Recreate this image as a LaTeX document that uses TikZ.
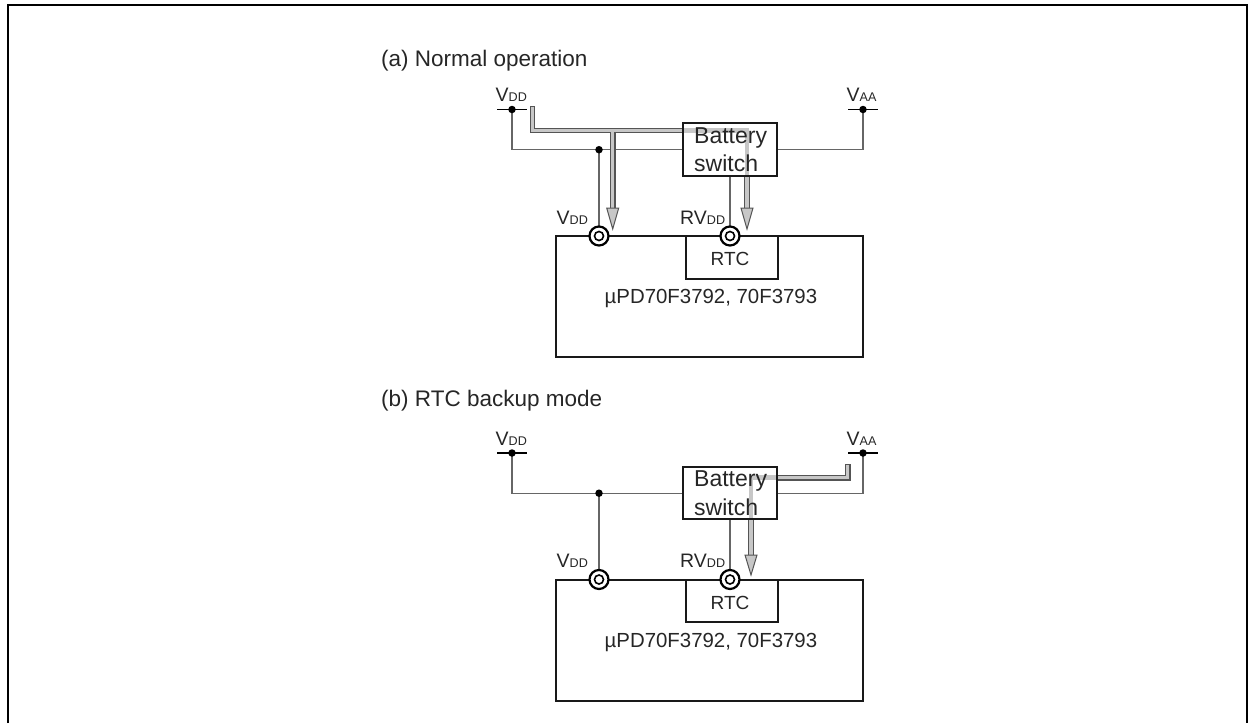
\documentclass[tikz,border=0pt]{standalone}
\usepackage{fontspec}
\setmainfont{Liberation Sans}
\definecolor{pipeedge}{gray}{0.33}
\definecolor{pipefill}{gray}{0.78}
\definecolor{wire}{gray}{0.4}
\newcommand{\VV}[2]{{\fontsize{19.5}{22}\selectfont #1{\fontsize{12.6}{22}\selectfont #2}}}
\tikzset{x=1pt,y=-1pt,
  frameline/.style={line width=2pt,black},
  box/.style={line width=2pt,black!90},
  thin wire/.style={line width=1.05pt,wire},
  rail/.style={line width=1.1pt,black},
  dotnode/.style={circle,fill=black,inner sep=0pt,minimum size=7.5pt},
  pinouter/.style={circle,draw=black,fill=white,line width=2.2pt,inner sep=0pt,minimum size=19pt},
  pininner/.style={circle,draw=black,fill=white,line width=1.6pt,inner sep=0pt,minimum size=9pt},
  txt/.style={inner sep=0pt,anchor=base west,font=\fontsize{23}{26}\selectfont,text=black!85},
  heading/.style={inner sep=0pt,anchor=base west,font=\fontsize{22.5}{26}\selectfont,text=black!85},
  lbl/.style={inner sep=0pt,anchor=base west,text=black!85},
  pipeout/.style={line width=5.8pt,pipeedge,line join=miter},
  pipein/.style={line width=3.4pt,pipefill,line join=miter},
  pipelight/.style={line width=4.5pt,pipefill},
  head/.style={draw=pipeedge,fill=pipefill,line width=1pt,line join=miter}
}
\newcommand{\panelbase}[2]{%
  \coordinate (d#2) at (512,{109.5+#1});
  \coordinate (a#2) at (863,{109.5+#1});
  \coordinate (j#2) at (599,{149.7+#1});
  \coordinate (pv#2) at (599,{236+#1});
  \coordinate (pr#2) at (730,{236+#1});
  \draw[rail] (497,{109.5+#1}) -- (527,{109.5+#1});
  \draw[rail] (848,{109.5+#1}) -- (878,{109.5+#1});
  \draw[thin wire] (d#2) |- (j#2) -- (683,{149.7+#1});
  \draw[thin wire] (776.7,{149.7+#1}) -| (a#2);
  \draw[thin wire] (j#2) -- (pv#2);
  \draw[thin wire] (730,{175.7+#1}) -- (pr#2);
  \node[dotnode] (dd#2) at (d#2) {};
  \node[dotnode] (da#2) at (a#2) {};
  \node[dotnode] (dj#2) at (j#2) {};
}
\newcommand{\panelfront}[2]{%
  \draw[box] (683,{123+#1}) rectangle (776.7,{175.7+#1});
  \draw[box] (556,{236+#1}) rectangle (862.7,{357.3+#1});
  \draw[box] (685.7,{236+#1}) rectangle (778,{278.5+#1});
  \node[pinouter] (po#2) at (pv#2) {};
  \node[pininner] (pi#2) at (pv#2) {};
  \node[pinouter] (qo#2) at (pr#2) {};
  \node[pininner] (qi#2) at (pr#2) {};
  \node[lbl] (l1#2) at (495.5,{101.7+#1}) {\VV{V}{DD}};
  \node[lbl] (l2#2) at (846.5,{101.7+#1}) {\VV{V}{AA}};
  \node[lbl] (l3#2) at (556.5,{224+#1}) {\VV{V}{DD}};
  \node[lbl] (l4#2) at (680,{224+#1}) {\VV{RV}{DD}};
  \node[txt] (t1#2) at (694,{143+#1}) {Battery};
  \node[txt] (t2#2) at (694,{171.5+#1}) {switch};
  \node[lbl,font=\fontsize{19}{22}\selectfont] (t3#2) at (710.5,{265.5+#1}) {RTC};
  \node[lbl,font=\fontsize{20.4}{24}\selectfont] (t4#2) at (604.5,{303.5+#1}) {\textmu PD70F3792, 70F3793};
}
\begin{document}
\begin{tikzpicture}
\useasboundingbox (0,0) rectangle (1249,723);
\draw[frameline] (8,723) -- (8,5) -- (1247,5) -- (1247,723);
\node[heading] (ta) at (381,66) {(a) Normal operation};
\node[heading] (tb) at (381,406) {(b) RTC backup mode};
\panelbase{0}{A}
\panelbase{343.5}{B}
% pipes (a)
\draw[pipeout] (532.5,106) -- (532.5,130.5) -- (683,130.5);
\draw[pipeout] (612.7,130.5) -- (612.7,210);
\draw[pipeout] (747,176) -- (747,210);
\draw[pipein] (532.5,107) -- (532.5,130.5) -- (683,130.5);
\draw[pipein] (612.7,130.5) -- (612.7,210);
\draw[pipelight] (683,130.5) -- (747,130.5) -- (747,176);
\draw[pipein] (747,176) -- (747,210);
\draw[head] (606.7,208) -- (618.7,208) -- (612.7,229) -- cycle;
\draw[head] (741,208) -- (753,208) -- (747,229) -- cycle;
% pipes (b)
\draw[pipeout] (847.7,464) -- (847.7,477.7) -- (776.7,477.7);
\draw[pipein] (847.7,465) -- (847.7,477.7) -- (776.7,477.7);
\draw[pipelight] (776.7,477.7) -- (751,477.7) -- (751,519);
\draw[pipeout] (751,519) -- (751,557);
\draw[pipein] (751,519) -- (751,557);
\draw[head] (745,555) -- (757,555) -- (751,575) -- cycle;
\panelfront{0}{A}
\panelfront{343.5}{B}
\end{tikzpicture}
\end{document}
